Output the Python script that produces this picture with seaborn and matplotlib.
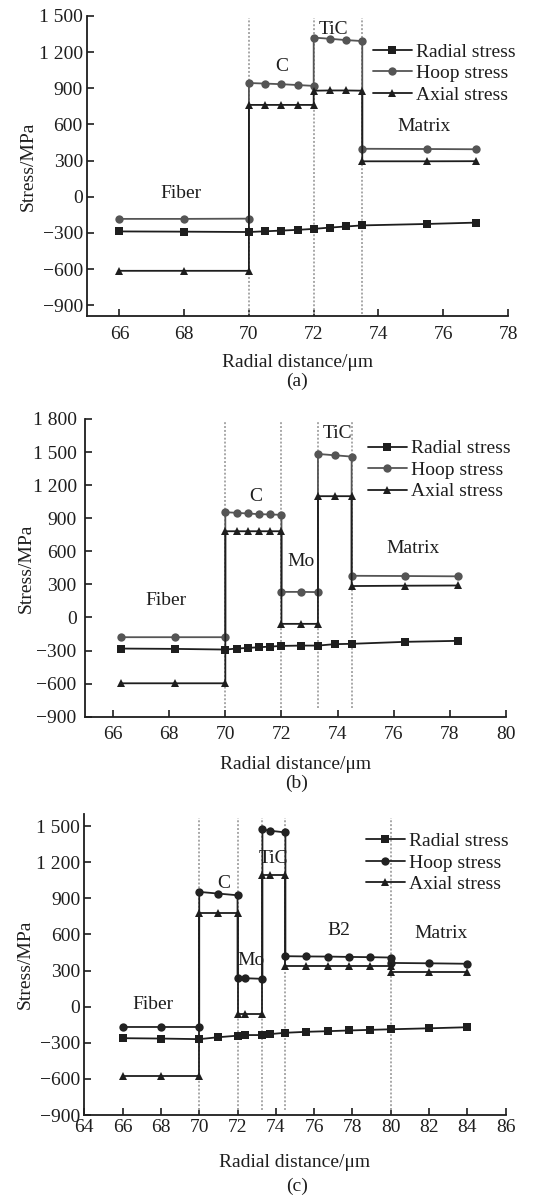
import matplotlib
matplotlib.use("Agg")
import matplotlib.pyplot as plt
import seaborn as sns
import pandas as pd

sns.set_theme(style="ticks")
plt.rcParams['font.family'] = ['Liberation Serif', 'DejaVu Serif']
plt.rcParams['axes.unicode_minus'] = True

# ---------------- Panel (a) ----------------
a_radial_x = [66, 68, 70, 70.5, 71, 71.5, 72, 72.5, 73, 73.5, 75.5, 77]
a_radial_y = [-288, -290, -293, -287, -281, -275, -267, -256, -247, -238, -226, -215]
a_layer_x = [66, 68, 70, 70, 70.5, 71, 71.5, 72, 72, 72.5, 73, 73.5, 73.5, 75.5, 77]
a_hoop_y = [-184, -184, -182, 944, 939, 934, 927, 920, 1321, 1311, 1300, 1292, 398, 396, 394]
a_axial_y = [-615, -615, -615, 762, 762, 762, 762, 762, 880, 882, 882, 880, 294, 294, 295]
a_bounds = [70, 72, 73.5]
a_regions = ["Fiber", "C", "TiC", "Matrix"]
a_region_x = [67.9, 71.0, 72.6, 75.4]
a_region_y = [30, 1080, 1390, 580]
a_yticks = [-900, -600, -300, 0, 300, 600, 900, 1200, 1500]
a_xticks = [66, 68, 70, 72, 74, 76, 78]

# ---------------- Panel (b) ----------------
b_radial_x = [66.3, 68.2, 70, 70.4, 70.8, 71.2, 71.6, 72, 72.7, 73.3, 73.9, 74.5, 76.4, 78.3]
b_radial_y = [-282, -285, -291, -282, -276, -270, -264, -258, -255, -255, -242, -239, -221, -212]
b_layer_x = [66.3, 68.2, 70, 70, 70.4, 70.8, 71.2, 71.6, 72, 72, 72.7, 73.3, 73.3, 73.9, 74.5, 74.5, 76.4, 78.3]
b_hoop_y = [-179, -179, -179, 955, 949, 943, 937, 934, 931, 232, 232, 230, 1483, 1471, 1459, 378, 376, 373]
b_axial_y = [-597, -597, -597, 782, 782, 782, 782, 782, 782, -58, -58, -58, 1100, 1100, 1100, 285, 288, 290]
b_bounds = [70, 72, 73.3, 74.5]
b_regions = ["Fiber", "C", "Mo", "TiC", "Matrix"]
b_region_x = [67.9, 71.07, 72.7, 74.0, 76.7]
b_region_y = [150, 1094, 511, 1664, 623]
b_yticks = [-900, -600, -300, 0, 300, 600, 900, 1200, 1500, 1800]
b_xticks = [66, 68, 70, 72, 74, 76, 78, 80]

# ---------------- Panel (c) ----------------
c_radial_x = [66, 68, 70, 71, 72, 72.4, 73.3, 73.7, 74.5, 75.6, 76.7, 77.8, 78.9, 80, 82, 84]
c_radial_y = [-262, -265, -270, -254, -241, -236, -236, -228, -217, -209, -204, -198, -193, -188, -180, -171]
c_layer_x = [66, 68, 70, 70, 71, 72, 72, 72.4, 73.3, 73.3, 73.7, 74.5, 74.5, 75.6, 76.7, 77.8, 78.9, 80, 80, 82, 84]
c_hoop_y = [-169, -169, -169, 953, 939, 925, 236, 236, 231, 1472, 1461, 1447, 419, 417, 416, 413, 411, 408, 363, 360, 356]
c_axial_y = [-580, -580, -580, 780, 780, 780, -62, -62, -62, 1095, 1095, 1095, 336, 336, 336, 336, 336, 336, 284, 284, 284]
c_bounds = [70, 72, 73.3, 74.5, 80]
c_regions = ["Fiber", "C", "Mo", "TiC", "B2", "Matrix"]
c_region_x = [67.6, 71.3, 72.7, 73.9, 77.3, 82.6]
c_region_y = [20, 1022, 383, 1230, 633, 606]
c_yticks = [-900, -600, -300, 0, 300, 600, 900, 1200, 1500]
c_xticks = [64, 66, 68, 70, 72, 74, 76, 78, 80, 82, 84, 86]

series_names = ["Radial stress", "Hoop stress", "Axial stress"]
panel_labels = ["(a)", "(b)", "(c)"]


def fmt(v):
    s = f"{abs(v):,}".replace(",", " ")
    return ("\u2212" + s) if v < 0 else s


W, H = 544, 1197
FS = 14
fig = plt.figure(figsize=(W / 100, H / 100), dpi=100)

panels = [
    dict(rect=(87, 16, 508, 316), xlim=(65, 78), ylim=(-990, 1500),
         rx=a_radial_x, ry=a_radial_y, lx=a_layer_x, hy=a_hoop_y, ay=a_axial_y,
         bounds=a_bounds, vrange=(-975, 1480), regions=a_regions, reg_x=a_region_x, reg_y=a_region_y,
         yticks=a_yticks, xticks=a_xticks, hoop_color='#555555', xpad=7, ypad=3,
         leg=(0.679, 0.91), xlab_y=-0.128, ylab_x=-0.119, cap_y=381),
    dict(rect=(85, 419, 506, 716.7), xlim=(65, 80), ylim=(-900, 1800),
         rx=b_radial_x, ry=b_radial_y, lx=b_layer_x, hy=b_hoop_y, ay=b_axial_y,
         bounds=b_bounds, vrange=(-820, 1780), regions=b_regions, reg_x=b_region_x, reg_y=b_region_y,
         yticks=b_yticks, xticks=b_xticks, hoop_color='#555555', xpad=7, ypad=6,
         leg=(0.672, 0.93), xlab_y=-0.132, ylab_x=-0.119, cap_y=783),
    dict(rect=(84.3, 814, 505.7, 1115), xlim=(64, 86), ylim=(-900, 1600),
         rx=c_radial_x, ry=c_radial_y, lx=c_layer_x, hy=c_hoop_y, ay=c_axial_y,
         bounds=c_bounds, vrange=(-860, 1570), regions=c_regions, reg_x=c_region_x, reg_y=c_region_y,
         yticks=c_yticks, xticks=c_xticks, hoop_color='#222222', xpad=3, ypad=3,
         leg=(0.668, 0.938), xlab_y=-0.128, ylab_x=-0.119, cap_y=1186),
]

for i, p in enumerate(panels):
    l, t, r, b = p['rect']
    ax = fig.add_axes([l / W, 1 - b / H, (r - l) / W, (b - t) / H])

    ax.vlines(p['bounds'], p['vrange'][0], p['vrange'][1], colors='#a8a8a8',
              linestyles=(0, (1, 1)), linewidth=1.4, zorder=1)

    df_r = pd.DataFrame({'x': p['rx'], 'y': p['ry']})
    df_h = pd.DataFrame({'x': p['lx'], 'y': p['hy']})
    df_a = pd.DataFrame({'x': p['lx'], 'y': p['ay']})
    sns.lineplot(data=df_r, x='x', y='y', sort=False, estimator=None, ax=ax,
                 color='#1e1e1e', marker='s', markersize=5.5, markeredgewidth=0,
                 linewidth=1.3, label=series_names[0], zorder=3)
    sns.lineplot(data=df_h, x='x', y='y', sort=False, estimator=None, ax=ax,
                 color=p['hoop_color'], marker='o', markersize=6, markeredgewidth=0,
                 linewidth=1.3, label=series_names[1], zorder=3)
    sns.lineplot(data=df_a, x='x', y='y', sort=False, estimator=None, ax=ax,
                 color='#1e1e1e', marker='^', markersize=6, markeredgewidth=0,
                 linewidth=1.3, label=series_names[2], zorder=3)

    for name, x, y in zip(p['regions'], p['reg_x'], p['reg_y']):
        ax.text(x, y, name, ha='center', va='center', fontsize=FS, color='#1e1e1e')

    ax.set_xlim(*p['xlim'])
    ax.set_ylim(*p['ylim'])
    ax.set_xticks(p['xticks'])
    ax.set_xticklabels([str(v) for v in p['xticks']])
    ax.set_yticks(p['yticks'])
    ax.set_yticklabels([fmt(v) for v in p['yticks']])
    ax.tick_params(axis='both', direction='in', length=5, width=1.2, labelsize=FS,
                   colors='#1e1e1e')
    ax.tick_params(axis='x', pad=p['xpad'])
    ax.tick_params(axis='y', pad=p['ypad'])
    sns.despine(ax=ax)
    for s in ['left', 'bottom']:
        ax.spines[s].set_linewidth(1.3)
        ax.spines[s].set_color('#1e1e1e')

    ax.set_xlabel("Radial distance/\u03bcm", fontsize=FS, color='#1e1e1e')
    ax.set_ylabel("Stress/MPa", fontsize=FS, color='#1e1e1e')
    ax.xaxis.set_label_coords(0.5, p['xlab_y'])
    ax.yaxis.set_label_coords(p['ylab_x'], 0.5)

    leg = ax.legend(loc='upper left', bbox_to_anchor=p['leg'], frameon=False,
                    fontsize=FS, handlelength=2.0, handletextpad=0.2,
                    labelspacing=0.2, borderpad=0, borderaxespad=0)
    for txt in leg.get_texts():
        txt.set_color('#1e1e1e')

    fig.text(297 / W, 1 - p['cap_y'] / H, panel_labels[i], ha='center', va='center',
             fontsize=FS, color='#1e1e1e')

fig.savefig("out.png", dpi=100, facecolor='white')
